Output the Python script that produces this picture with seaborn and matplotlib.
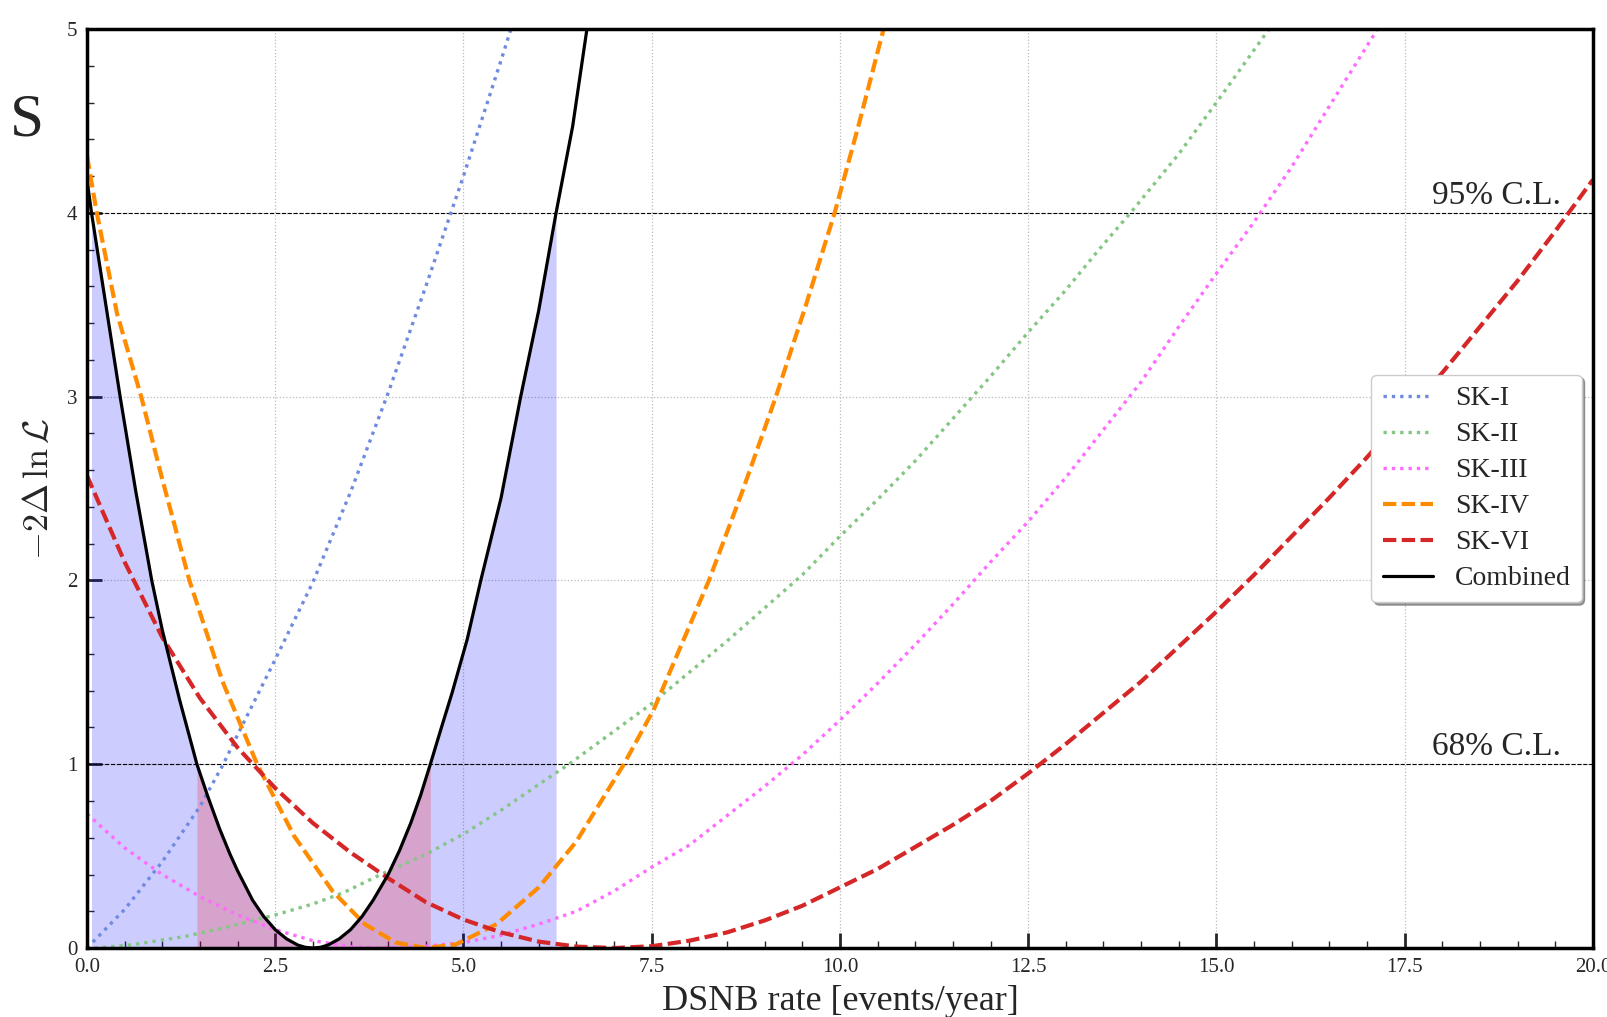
import numpy as np
import pandas as pd
import matplotlib
matplotlib.use("Agg")
import matplotlib.pyplot as plt
from matplotlib.ticker import MultipleLocator
import seaborn as sns

# values
sk1_x = [0.0, 0.5, 1.0, 1.5, 1.81, 2.0, 2.5, 3.0, 3.5, 4.0, 4.5, 5.0, 5.5, 5.63, 5.8]
sk1_y = [0.0, 0.21, 0.47, 0.77, 1.0, 1.16, 1.57, 1.99, 2.48, 3.02, 3.6, 4.2, 4.83, 5.0, 5.22]

sk2_x = [0.1, 0.6, 1.3, 1.9, 2.5, 3.0, 3.4, 3.9, 4.5, 5.0, 5.5, 6.0, 6.4, 7.0, 7.5, 8.0,
         8.5, 9.0, 9.5, 10.0, 10.5, 11.0, 11.5, 12.0, 12.5, 13.0, 13.44, 13.86, 14.5,
         15.0, 15.7, 16.0]
sk2_y = [0.0, 0.018, 0.063, 0.118, 0.18, 0.24, 0.30, 0.40, 0.51, 0.62, 0.75, 0.89, 1.0,
         1.18, 1.33, 1.5, 1.67, 1.85, 2.03, 2.24, 2.44, 2.65, 2.88, 3.11, 3.35, 3.58, 3.80,
         4.0, 4.32, 4.6, 5.0, 5.17]

sk3_x = [0.0, 0.5, 1.0, 1.5, 2.0, 2.5, 3.0, 3.5, 3.9, 4.5, 5.0, 5.5, 6.0, 6.5, 7.0, 7.5,
         8.0, 8.5, 9.0, 9.5, 10.0, 10.5, 11.0, 11.5, 12.0, 12.5, 13.0, 13.5, 14.0, 14.5,
         15.0, 15.5, 16.0, 16.5, 17.14, 17.4]
sk3_y = [0.73, 0.545, 0.40, 0.28, 0.18, 0.10, 0.04, 0.008, 0.0, 0.01, 0.03, 0.07, 0.13,
         0.2, 0.31, 0.44, 0.56, 0.72, 0.88, 1.05, 1.24, 1.44, 1.65, 1.87, 2.1, 2.32, 2.56,
         2.82, 3.08, 3.38, 3.67, 3.95, 4.25, 4.58, 5.0, 5.17]

sk4_x = [0.0, 0.13, 0.4, 0.72, 1.0, 1.36, 1.8, 2.26, 2.75, 3.26, 3.69, 4.1, 4.5, 4.9,
         5.44, 6.0, 6.5, 7.13, 7.53, 8.26, 8.7, 9.15, 9.55, 9.93, 10.25, 10.58, 10.8]
sk4_y = [4.31, 4.0, 3.45, 3.0, 2.55, 2.0, 1.45, 1.0, 0.61, 0.31, 0.13, 0.03, 0.0, 0.02,
         0.13, 0.33, 0.58, 1.0, 1.3, 2.0, 2.48, 3.0, 3.5, 4.0, 4.48, 5.0, 5.35]

sk6_x = [0.0, 0.5, 1.0, 1.5, 2.0, 2.5, 3.0, 3.5, 4.0, 4.5, 5.0, 5.5, 6.0, 6.5, 7.0, 7.5,
         8.0, 8.5, 9.0, 9.5, 10.0, 10.5, 11.0, 11.5, 12.0, 12.5, 13.0, 13.5, 14.0, 14.5,
         15.0, 15.5, 16.0, 16.5, 17.0, 17.5, 18.0, 18.5, 19.0, 19.5, 20.0]
sk6_y = [2.57, 2.1, 1.69, 1.36, 1.09, 0.87, 0.68, 0.52, 0.38, 0.25, 0.155, 0.085, 0.035,
         0.008, 0.0, 0.01, 0.04, 0.085, 0.15, 0.23, 0.33, 0.43, 0.55, 0.67, 0.80, 0.95,
         1.11, 1.28, 1.45, 1.64, 1.83, 2.03, 2.24, 2.45, 2.67, 2.90, 3.13, 3.38, 3.63, 3.9,
         4.18]

comb_x = [0.0, 0.06, 0.25, 0.44, 0.65, 0.86, 1.0, 1.23, 1.46, 1.6, 1.76, 1.9, 2.0, 2.2,
          2.35, 2.5, 2.65, 2.8, 2.9, 3.0, 3.1, 3.2, 3.35, 3.5, 3.65, 3.8, 4.0, 4.15, 4.3,
          4.43, 4.56, 4.7, 4.85, 5.05, 5.23, 5.5, 5.76, 6.0, 6.23, 6.45, 6.64, 6.75]
comb_y = [4.18, 4.0, 3.5, 3.0, 2.48, 2.0, 1.73, 1.35, 1.0, 0.83, 0.65, 0.51, 0.42, 0.26,
          0.17, 0.10, 0.05, 0.016, 0.004, 0.0, 0.004, 0.016, 0.05, 0.10, 0.17, 0.26, 0.40,
          0.53, 0.68, 0.83, 1.0, 1.19, 1.39, 1.68, 2.0, 2.45, 3.0, 3.47, 4.0, 4.47, 5.0,
          5.3]

series = [
    ("SK-I", sk1_x, sk1_y, "#6f8ae0", (1, 1.5), 2.4),
    ("SK-II", sk2_x, sk2_y, "#85c685", (1, 1.5), 2.4),
    ("SK-III", sk3_x, sk3_y, "#ff6bff", (1, 1.5), 2.4),
    ("SK-IV", sk4_x, sk4_y, "#ff8c00", (3.2, 1.3), 3.0),
    ("SK-VI", sk6_x, sk6_y, "#d62728", (3.2, 1.3), 3.0),
]

sns.set_style("ticks")
plt.rcParams["font.family"] = ["Liberation Serif", "DejaVu Serif"]
plt.rcParams["mathtext.fontset"] = "cm"

fig = plt.figure(figsize=(16.08, 10.17), dpi=100)
ax = fig.add_axes([0.0541, 0.0678, 0.9365, 0.9037])

# confidence regions under the combined curve
cx = np.array(comb_x)
cy = np.array(comb_y)
ax.fill_between(cx, cy, 0, where=cy <= 4.0, color="blue", alpha=0.2, lw=0)
ax.fill_between(cx, cy, 0, where=cy <= 1.0, color="red", alpha=0.2, lw=0)

for name, xs, ys, col, dash, lw in series:
    line_ax = sns.lineplot(x=xs, y=ys, ax=ax, color=col, lw=lw, label=name)
    line_ax.lines[-1].set_dashes(dash)
sns.lineplot(x=comb_x, y=comb_y, ax=ax, color="black", lw=2.3, label="Combined")

ax.axhline(4, color="black", ls="--", lw=0.8, zorder=1)
ax.axhline(1, color="black", ls="--", lw=0.8, zorder=1)
ax.text(19.57, 4.05, "95% C.L.", ha="right", va="baseline", fontsize=24)
ax.text(19.57, 1.05, "68% C.L.", ha="right", va="baseline", fontsize=24)

ax.set_xlim(0, 20)
ax.set_ylim(0, 5)
ax.xaxis.set_major_locator(MultipleLocator(2.5))
ax.xaxis.set_minor_locator(MultipleLocator(0.5))
ax.yaxis.set_major_locator(MultipleLocator(1))
ax.yaxis.set_minor_locator(MultipleLocator(0.2))
ax.grid(True, which="major", ls=":", color="#bbbbbb", lw=0.9)
ax.tick_params(which="both", direction="in", top=False, right=False)
ax.tick_params(which="major", length=11, width=2, labelsize=15, pad=7)
ax.tick_params(which="minor", length=5, width=1)
for sp in ax.spines.values():
    sp.set_linewidth(2.5)
    sp.set_color("black")

ax.set_xlabel("DSNB rate [events/year]", fontsize=26, labelpad=6)
ax.set_ylabel(r"$-2\Delta\,\ln\mathcal{L}$", fontsize=26, labelpad=8)

leg = ax.legend(loc="center right", fontsize=20, frameon=True, fancybox=True, shadow=True,
                framealpha=1, edgecolor="#cccccc", borderaxespad=0.4, handlelength=1.8,
                labelspacing=0.38)
for h, s in zip(leg.get_lines(), series):
    h.set_dashes(s[4])

fig.text(0.0062, 0.867, "S", fontsize=44, va="baseline", ha="left")

fig.savefig("out.png", dpi=100)
